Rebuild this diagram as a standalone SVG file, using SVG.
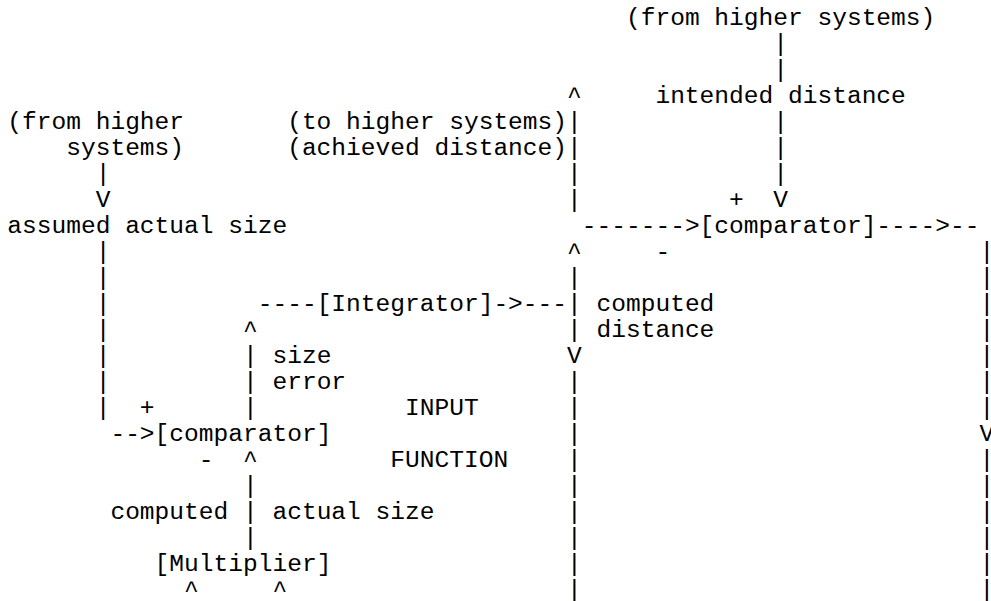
<svg xmlns="http://www.w3.org/2000/svg" width="991" height="601" viewBox="0 0 991 601">
  <style>
    text { font-family: "Liberation Mono", "Courier New", monospace; font-size: 24.55px; fill: #000; white-space: pre; }
  </style>
  <rect width="991" height="601" fill="#fff"/>

  <!-- grid: x = 7.3 + 14.73*col, baseline y = 25 + 26*row -->

  <g id="connectors">
    <!-- intended distance down into the distance comparator (col 52) -->
    <text><tspan x="773.26" y="51">|</tspan><tspan x="773.26" y="77">|</tspan><tspan x="773.26" y="129">|</tspan><tspan x="773.26" y="155">|</tspan><tspan x="773.26" y="181">|</tspan><tspan x="773.26" y="207">V</tspan></text>
    <!-- achieved distance up to higher systems (col 38, rows 3-7) -->
    <text><tspan x="567.04" y="103">^</tspan><tspan x="567.04" y="129">|</tspan><tspan x="567.04" y="155">|</tspan><tspan x="567.04" y="181">|</tspan><tspan x="567.04" y="207">|</tspan></text>
    <!-- into and out of the distance comparator (row 8) -->
    <text x="581.77" y="233">-------&gt;</text>
    <text x="876.37" y="233">----&gt;--</text>
    <!-- right-hand output line (col 66) -->
    <text><tspan x="979.48" y="259">|</tspan><tspan x="979.48" y="285">|</tspan><tspan x="979.48" y="311">|</tspan><tspan x="979.48" y="337">|</tspan><tspan x="979.48" y="363">|</tspan><tspan x="979.48" y="389">|</tspan><tspan x="979.48" y="415">|</tspan><tspan x="979.48" y="441">V</tspan><tspan x="979.48" y="467">|</tspan><tspan x="979.48" y="493">|</tspan><tspan x="979.48" y="519">|</tspan><tspan x="979.48" y="545">|</tspan><tspan x="979.48" y="571">|</tspan><tspan x="979.48" y="597">|</tspan></text>
    <!-- computed distance line (col 38, rows 9-22) -->
    <text><tspan x="567.04" y="259">^</tspan><tspan x="567.04" y="285">|</tspan><tspan x="567.04" y="311">|</tspan><tspan x="567.04" y="337">|</tspan><tspan x="567.04" y="363">V</tspan><tspan x="567.04" y="389">|</tspan><tspan x="567.04" y="415">|</tspan><tspan x="567.04" y="441">|</tspan><tspan x="567.04" y="467">|</tspan><tspan x="567.04" y="493">|</tspan><tspan x="567.04" y="519">|</tspan><tspan x="567.04" y="545">|</tspan><tspan x="567.04" y="571">|</tspan><tspan x="567.04" y="597">|</tspan></text>
    <!-- integrator in and out (row 11) -->
    <text x="257.71" y="311">----</text>
    <text x="493.39" y="311">-&gt;---</text>
    <!-- size error up to the integrator (col 16) -->
    <text><tspan x="242.98" y="337">^</tspan><tspan x="242.98" y="363">|</tspan><tspan x="242.98" y="389">|</tspan><tspan x="242.98" y="415">|</tspan></text>
    <!-- computed actual size up to the size comparator (col 16) -->
    <text><tspan x="242.98" y="467">^</tspan><tspan x="242.98" y="493">|</tspan><tspan x="242.98" y="519">|</tspan><tspan x="242.98" y="545">|</tspan></text>
    <!-- assumed actual size line (col 6) -->
    <text><tspan x="95.68" y="181">|</tspan><tspan x="95.68" y="207">V</tspan><tspan x="95.68" y="259">|</tspan><tspan x="95.68" y="285">|</tspan><tspan x="95.68" y="311">|</tspan><tspan x="95.68" y="337">|</tspan><tspan x="95.68" y="363">|</tspan><tspan x="95.68" y="389">|</tspan><tspan x="95.68" y="415">|</tspan></text>
    <text x="110.41" y="441">--&gt;</text>
    <!-- multiplier inputs (row 22) -->
    <text x="184.06" y="597">^</text>
    <text x="272.44" y="597">^</text>
  </g>

  <g id="from-higher-top">
    <text x="625.96" y="25">(from higher systems)</text>
  </g>
  <g id="intended-distance">
    <text x="655.42" y="103">intended distance</text>
  </g>
  <g id="from-higher-left">
    <text x="7.3" y="129">(from higher</text>
    <text x="66.22" y="155">systems)</text>
  </g>
  <g id="to-higher">
    <text x="287.17" y="129">(to higher systems)</text>
    <text x="287.17" y="155">(achieved distance)</text>
  </g>
  <g id="assumed-actual-size">
    <text x="7.3" y="233">assumed actual size</text>
  </g>
  <g id="distance-comparator">
    <text x="729.07" y="207">+</text>
    <text x="699.61" y="233">[comparator]</text>
    <text x="655.42" y="259">-</text>
  </g>
  <g id="integrator">
    <text x="316.63" y="311">[Integrator]</text>
  </g>
  <g id="computed-distance">
    <text x="596.5" y="311">computed</text>
    <text x="596.5" y="337">distance</text>
  </g>
  <g id="size-error">
    <text x="272.44" y="363">size</text>
    <text x="272.44" y="389">error</text>
  </g>
  <g id="input-function">
    <text x="405.01" y="415">INPUT</text>
    <text x="390.28" y="467">FUNCTION</text>
  </g>
  <g id="size-comparator">
    <text x="139.87" y="415">+</text>
    <text x="154.6" y="441">[comparator]</text>
    <text x="198.79" y="467">-</text>
  </g>
  <g id="computed-actual-size">
    <text x="110.41" y="519">computed</text>
    <text x="272.44" y="519">actual size</text>
  </g>
  <g id="multiplier">
    <text x="154.6" y="571">[Multiplier]</text>
  </g>
</svg>
